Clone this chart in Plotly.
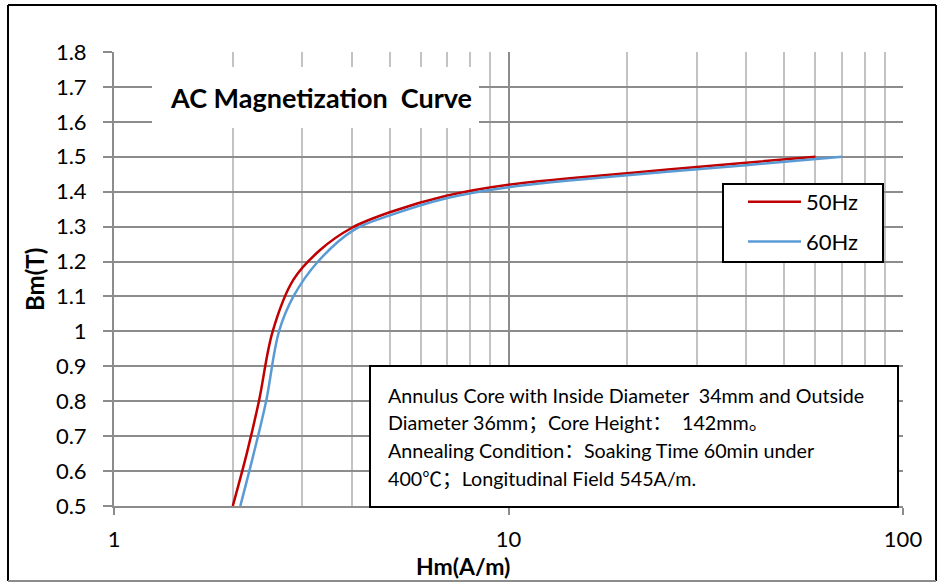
import plotly.graph_objects as go

# ---- data ----
H_50 = [2.0, 2.17, 2.33, 2.525, 2.85, 3.33, 4.0, 5.0, 7.0, 10.0, 20.0, 40.0, 60.0]
B_50 = [0.5, 0.65, 0.8, 1.0, 1.148, 1.233, 1.296, 1.341, 1.389, 1.42, 1.453, 1.483, 1.5]
H_60 = [2.09, 2.26, 2.43, 2.62, 2.85, 3.29, 4.05, 5.0, 7.0, 10.0, 20.0, 40.0, 70.0]
B_60 = [0.5, 0.65, 0.8, 1.0, 1.1, 1.2, 1.29, 1.332, 1.382, 1.413, 1.447, 1.476, 1.5]
series_names = ["50Hz", "60Hz"]
series_colors = ["#C00000", "#5B9BD5"]
y_ticks = [0.5, 0.6, 0.7, 0.8, 0.9, 1.0, 1.1, 1.2, 1.3, 1.4, 1.5, 1.6, 1.7, 1.8]
x_ticks = [1, 10, 100]
x_minor = [2, 3, 4, 5, 6, 7, 8, 9, 20, 30, 40, 50, 60, 70, 80, 90]
title_text = "AC Magnetization&nbsp; Curve"
x_title = "Hm(A/m)"
y_title = "Bm(T)"
note_lines = [
    "Annulus Core with Inside Diameter&nbsp; 34mm and Outside",
    "Diameter 36mm；Core Height：&nbsp; 142mm。",
    "Annealing Condition：Soaking Time 60min under",
    "400℃；Longitudinal Field 545A/m.",
]

FONT = "Lato, Noto Sans CJK SC, sans-serif"

fig = go.Figure()
for H, B, name, col in [(H_50, B_50, series_names[0], series_colors[0]),
                        (H_60, B_60, series_names[1], series_colors[1])]:
    fig.add_trace(go.Scatter(x=H, y=B, mode="lines", name=name, legendgroup=name,
                             line=dict(color=col, width=2.5, shape="spline", smoothing=1.0)))

W, Ht = 941, 583
L, R, T, Bm = 114, 38, 52, 77
pw, ph = W - L - R, Ht - T - Bm

def px(x):
    return (x - L) / pw

def py(y):
    return (Ht - Bm - y) / ph

fig.update_layout(
    width=W, height=Ht,
    margin=dict(l=L, r=R, t=T, b=Bm, autoexpand=False),
    paper_bgcolor="white", plot_bgcolor="white",
    font=dict(family=FONT, color="black", size=22),
    showlegend=True,
    legend=dict(x=px(743), y=py(181), xanchor="left", yanchor="top",
                borderwidth=0, bgcolor="rgba(0,0,0,0)",
                font=dict(size=22), tracegroupgap=8, itemwidth=53),
    xaxis=dict(type="log", range=[0, 2], tickvals=x_ticks, ticktext=[str(v) for v in x_ticks],
               showgrid=True, gridcolor="#8c8c8c", gridwidth=2,
               minor=dict(tickvals=x_minor, showgrid=True, gridcolor="#c3c3c3", gridwidth=2, ticks=""),
               showline=True, linecolor="#8c8c8c", linewidth=2,
               ticks="outside", ticklen=7, tickcolor="#8c8c8c", tickwidth=2,
               ticklabelstandoff=6, automargin=False, zeroline=False),
    yaxis=dict(range=[0.5, 1.8], tickvals=y_ticks, ticktext=[f"{v:g}" for v in y_ticks],
               showgrid=True, gridcolor="#8c8c8c", gridwidth=2,
               showline=True, linecolor="#8c8c8c", linewidth=2,
               ticks="outside", ticklen=9, tickcolor="#8c8c8c", tickwidth=2,
               ticklabelstandoff=12, automargin=False, zeroline=False),
)

# outer chart border
shapes = [
    dict(type="line", xref="paper", yref="paper", x0=px(8), x1=px(936), y0=py(5), y1=py(5),
         line=dict(color="black", width=2)),
    dict(type="line", xref="paper", yref="paper", x0=px(8), x1=px(8), y0=py(5), y1=py(581),
         line=dict(color="black", width=2)),
    dict(type="line", xref="paper", yref="paper", x0=px(936), x1=px(936), y0=py(5), y1=py(581),
         line=dict(color="black", width=2)),
    dict(type="line", xref="paper", yref="paper", x0=px(8), x1=px(936), y0=py(581), y1=py(581),
         line=dict(color="#8c8c8c", width=2)),
    # title background
    dict(type="rect", xref="paper", yref="paper", x0=px(152), x1=px(479), y0=py(128), y1=py(67),
         fillcolor="white", line=dict(width=0), layer="above"),
    # legend frame
    dict(type="rect", xref="paper", yref="paper", x0=px(723), x1=px(883), y0=py(262), y1=py(184),
         fillcolor="white", line=dict(color="black", width=2), layer="above"),
    # note box
    dict(type="rect", xref="paper", yref="paper", x0=px(370), x1=px(898), y0=py(507), y1=py(366),
         fillcolor="white", line=dict(color="black", width=2), layer="above"),
]
fig.update_layout(shapes=shapes)

annotations = [
    dict(xref="paper", yref="paper", x=px(321), y=py(97), text=f"<b>{title_text}</b>",
         showarrow=False, xanchor="center", yanchor="middle", font=dict(size=27)),
    dict(xref="paper", yref="paper", x=px(463), y=py(566), text=f"<b>{x_title}</b>",
         showarrow=False, xanchor="center", yanchor="middle", font=dict(size=23)),
    dict(xref="paper", yref="paper", x=px(34), y=py(280), text=f"<b>{y_title}</b>",
         showarrow=False, xanchor="center", yanchor="middle", textangle=-90, font=dict(size=24)),
]
for i, line in enumerate(note_lines):
    annotations.append(dict(xref="paper", yref="paper", x=px(386), y=py(395 + i * 27.7),
                            text=line, showarrow=False, xanchor="left", yanchor="middle",
                            font=dict(size=19.7)))
fig.update_layout(annotations=annotations)

fig.write_html("out.html")
